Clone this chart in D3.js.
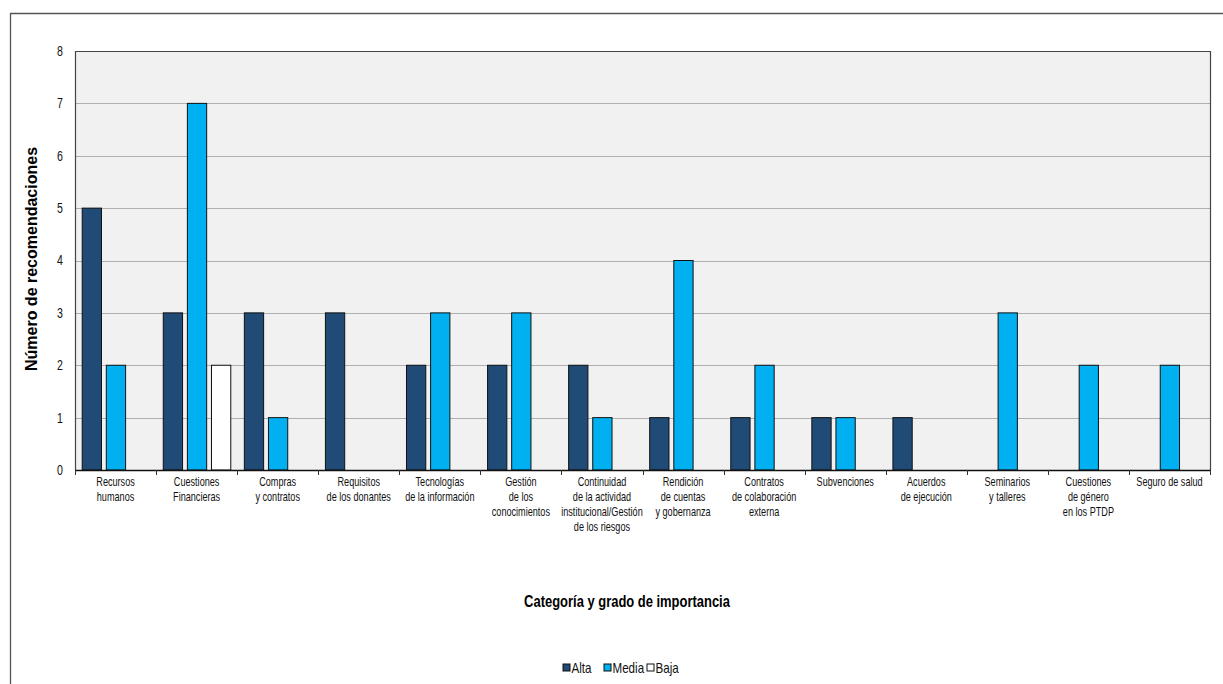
<!DOCTYPE html>
<html>
<head>
<meta charset="utf-8">
<script src="https://cdn.jsdelivr.net/npm/d3@7"></script>
<style>
  body { margin: 0; background: #fff; }
  svg { display: block; font-family: "Liberation Sans", Arial, sans-serif; }
  .title { font-weight: bold; font-size: 16px; }
</style>
</head>
<body>
<svg id="chart"></svg>
<script>
// categories (lines of each label)
var categories = [
  ["Recursos", "humanos"],
  ["Cuestiones", "Financieras"],
  ["Compras", "y contratos"],
  ["Requisitos", "de los donantes"],
  ["Tecnologías", "de la información"],
  ["Gestión", "de los", "conocimientos"],
  ["Continuidad", "de la actividad", "institucional/Gestión", "de los riesgos"],
  ["Rendición", "de cuentas", "y gobernanza"],
  ["Contratos", "de colaboración", "externa"],
  ["Subvenciones"],
  ["Acuerdos", "de ejecución"],
  ["Seminarios", "y talleres"],
  ["Cuestiones", "de género", "en los PTDP"],
  ["Seguro de salud"]
];
var alta  = [5, 3, 3, 3, 2, 2, 2, 1, 1, 1, 1, 0, 0, 0];
var media = [2, 7, 1, 0, 3, 3, 1, 4, 2, 1, 0, 3, 2, 2];
var baja  = [0, 2, 0, 0, 0, 0, 0, 0, 0, 0, 0, 0, 0, 0];
var seriesNames = ["Alta", "Media", "Baja"];
var seriesColors = ["#1F4B76", "#00B0F0", "#FFFFFF"];
var yTicks = [0, 1, 2, 3, 4, 5, 6, 7, 8];

var width = 1223, height = 684;
var plotLeft = 75, plotTop = 51, plotRight = 1210, plotBottom = 470;
var narrow = 0.76; // squeeze to mimic a narrow font

var svg = d3.select("#chart").attr("width", width).attr("height", height);

// outer frame
svg.append("path")
  .attr("d", "M10.5," + height + "V13.5H" + width)
  .attr("fill", "none").attr("stroke", "#555").attr("stroke-width", 1.3);

var keys = categories.map(function(d, i) { return i; });
var x = d3.scaleBand().domain(keys).range([plotLeft, plotRight]);
var x1 = d3.scaleBand().domain(seriesNames).range([7.2, 74.7]).paddingInner(0.2);
var y = d3.scaleLinear().domain([0, 8]).range([plotBottom, plotTop]);

// plot background
svg.append("rect")
  .attr("x", plotLeft).attr("y", plotTop)
  .attr("width", plotRight - plotLeft).attr("height", plotBottom - plotTop)
  .attr("fill", "#F1F1F1");

// gridlines
svg.append("g")
  .selectAll("line")
  .data(yTicks.filter(function(t) { return t > 0 && t < 8; }))
  .enter().append("line")
  .attr("x1", plotLeft).attr("x2", plotRight)
  .attr("y1", function(d) { return Math.round(y(d)) + 0.5; })
  .attr("y2", function(d) { return Math.round(y(d)) + 0.5; })
  .attr("stroke", "#AFAFAF").attr("stroke-width", 1);

// plot border (left/top/right)
svg.append("path")
  .attr("d", "M" + (plotLeft + 0.5) + "," + plotBottom + "V" + (plotTop + 0.5) + "H" + (plotRight + 0.5) + "V" + plotBottom)
  .attr("fill", "none").attr("stroke", "#444").attr("stroke-width", 1.2);

// bars
var rows = [];
keys.forEach(function(k) {
  [alta, media, baja].forEach(function(s, j) {
    if (s[k] > 0) rows.push({ cat: k, name: seriesNames[j], value: s[k], color: seriesColors[j] });
  });
});

svg.append("g")
  .selectAll("rect")
  .data(rows)
  .enter().append("rect")
  .attr("x", function(d) { return x(d.cat) + x1(d.name); })
  .attr("y", function(d) { return y(d.value); })
  .attr("width", x1.bandwidth())
  .attr("height", function(d) { return y(0) - y(d.value); })
  .attr("fill", function(d) { return d.color; })
  .attr("stroke", "#111").attr("stroke-width", 1);

// y axis labels (squeezed)
var yAxis = svg.append("g")
  .attr("transform", "translate(" + plotLeft + ",0)")
  .call(d3.axisLeft(y).tickValues(yTicks).tickSize(0).tickPadding(0));
yAxis.select(".domain").remove();
yAxis.selectAll(".tick text")
  .attr("font-size", 14).attr("fill", "#111")
  .attr("text-anchor", "end")
  .attr("transform", "translate(-12,0) scale(" + narrow + ",1)");

// x axis: line + ticks at band boundaries
svg.append("line")
  .attr("x1", plotLeft).attr("x2", plotRight + 1)
  .attr("y1", plotBottom + 0.5).attr("y2", plotBottom + 0.5)
  .attr("stroke", "#111").attr("stroke-width", 1.5);

var bounds = keys.map(function(k) { return x(k); }).concat([plotRight]);
svg.append("g")
  .selectAll("line")
  .data(bounds)
  .enter().append("line")
  .attr("x1", function(d) { return Math.round(d) + 0.5; })
  .attr("x2", function(d) { return Math.round(d) + 0.5; })
  .attr("y1", plotBottom).attr("y2", plotBottom + 5)
  .attr("stroke", "#333");

var labels = svg.append("g")
  .selectAll("text")
  .data(categories)
  .enter().append("text")
  .attr("text-anchor", "middle")
  .attr("font-size", 12)
  .attr("fill", "#111")
  .attr("transform", function(d, i) {
    return "translate(" + (x(i) + x.bandwidth() / 2) + "," + (plotBottom + 16) + ") scale(" + narrow + ",1)";
  });
labels.selectAll("tspan")
  .data(function(d) { return d; })
  .enter().append("tspan")
  .attr("x", 0)
  .attr("y", function(d, i) { return i * 15; })
  .text(function(d) { return d; });

// axis titles
svg.append("text")
  .attr("class", "title")
  .attr("text-anchor", "middle")
  .attr("transform", "translate(37,259) rotate(-90)")
  .text("Número de recomendaciones");

svg.append("text")
  .attr("class", "title")
  .attr("text-anchor", "middle")
  .attr("transform", "translate(627,607) scale(0.81,1)")
  .text("Categoría y grado de importancia");

// legend
var legendX = [563, 604, 647];
var legend = svg.append("g")
  .selectAll("g")
  .data(seriesNames)
  .enter().append("g")
  .attr("transform", function(d, i) { return "translate(" + legendX[i] + ",664)"; });
legend.append("rect")
  .attr("width", 7).attr("height", 7)
  .attr("fill", function(d, i) { return seriesColors[i]; })
  .attr("stroke", "#111").attr("stroke-width", 1);
legend.append("text")
  .attr("transform", "translate(8.5,9) scale(0.8,1)")
  .attr("font-size", 14.5).attr("fill", "#111")
  .text(function(d) { return d; });
</script>
</body>
</html>
